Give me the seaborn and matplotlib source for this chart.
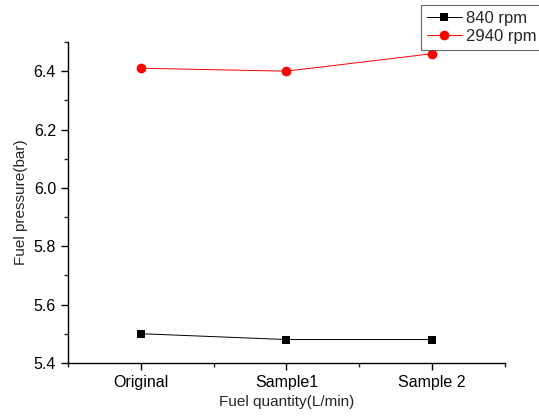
import pandas as pd
import numpy as np
import matplotlib
matplotlib.use('Agg')
import matplotlib.pyplot as plt
import seaborn as sns
from matplotlib.ticker import MultipleLocator

categories = ['Original', 'Sample1', 'Sample 2']
rpm840 = [5.50, 5.48, 5.48]
rpm2940 = [6.41, 6.40, 6.46]

sns.set_style('ticks')
plt.rcParams['font.family'] = ['Liberation Sans', 'DejaVu Sans']

df = pd.DataFrame({
    'cat': categories * 2,
    'val': rpm840 + rpm2940,
    'series': ['840 rpm'] * 3 + ['2940 rpm'] * 3,
})

fig = plt.figure(figsize=(5.39, 4.2), dpi=100)
ax = fig.add_axes([0.126, 0.136, 0.811, 0.764])

sns.lineplot(data=df[df.series == '840 rpm'], x='cat', y='val', ax=ax,
             color='black', marker='s', markersize=6, linewidth=0.7,
             markeredgewidth=0, label='840 rpm', sort=False)
sns.lineplot(data=df[df.series == '2940 rpm'], x='cat', y='val', ax=ax,
             color='#ff0000', marker='o', markersize=7, linewidth=0.7,
             markeredgewidth=0, label='2940 rpm', sort=False)

ax.set_xlim(-0.5, 2.5)
ax.set_ylim(5.4, 6.5)
ax.set_yticks([5.4, 5.6, 5.8, 6.0, 6.2, 6.4])
ax.yaxis.set_minor_locator(MultipleLocator(0.1))
ax.set_xticks([0, 1, 2])
ax.set_xticklabels(categories)
ax.xaxis.set_minor_locator(MultipleLocator(0.5))
ax.tick_params(axis='both', which='major', direction='out', length=5, width=1, labelsize=11.5, colors='black')
ax.tick_params(axis='both', which='minor', direction='out', length=3, width=1)
for s in ['left', 'bottom']:
    ax.spines[s].set_linewidth(1)
    ax.spines[s].set_color('black')
sns.despine(ax=ax)

ax.set_xlabel('Fuel quantity(L/min)', fontsize=11)
ax.set_ylabel('Fuel pressure(bar)', fontsize=11)

leg = ax.legend(loc='upper left', bbox_to_anchor=(421 / 539, 1 - 5 / 420), bbox_transform=fig.transFigure,
                fontsize=12, frameon=True, fancybox=False, edgecolor='#444444',
                borderpad=0.35, borderaxespad=0, handlelength=2.1, handletextpad=0.25, labelspacing=0.2)
leg.get_frame().set_linewidth(0.8)

fig.savefig('out.png', dpi=100)
